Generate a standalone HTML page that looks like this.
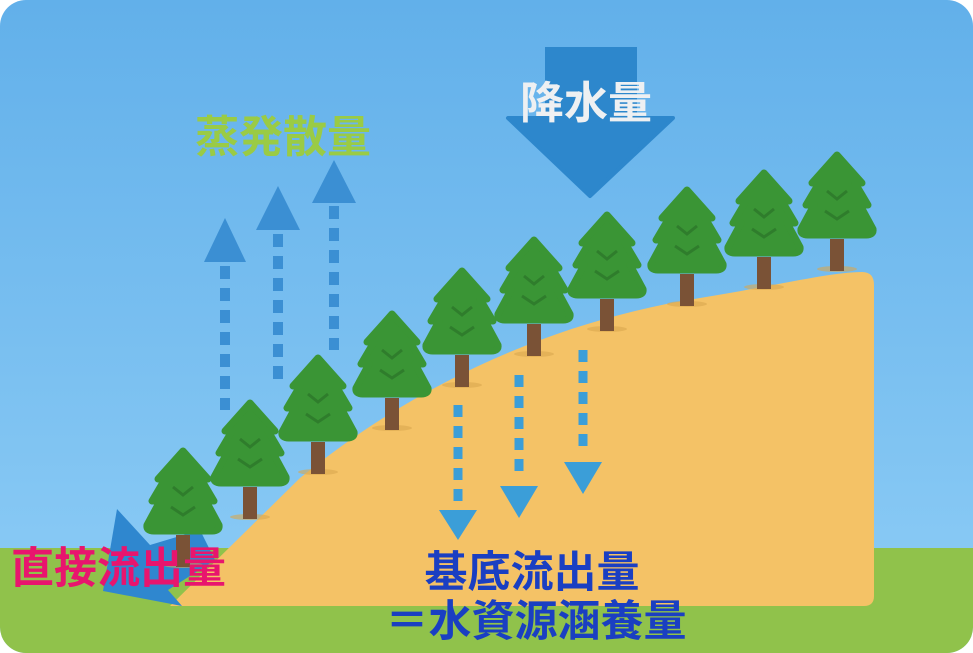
<!DOCTYPE html>
<html><head><meta charset="utf-8"><style>
html,body{margin:0;padding:0;background:#fff;}
svg{display:block;}
text{font-family:"Liberation Sans","Noto Sans CJK JP",sans-serif;font-weight:bold;}
</style></head><body>
<svg width="973" height="653" viewBox="0 0 973 653" xmlns="http://www.w3.org/2000/svg">
<defs>
<linearGradient id="sky" x1="0" y1="0" x2="0" y2="1">
<stop offset="0" stop-color="#62b0ea"/><stop offset="1" stop-color="#8ecdf6"/>
</linearGradient>
<clipPath id="clip"><rect x="0" y="0" width="973" height="653" rx="26"/></clipPath>
<g id="tree">
<ellipse cx="0" cy="-2" rx="20" ry="3" fill="#d9a64f" opacity="0.6"/>
<rect x="-7" y="-32" width="14" height="32" fill="#7a5236"/>
<path d="M0,-116 L-25,-88 L-18,-88 L-31,-66 L-23,-66 L-36,-42 Q-37,-36 -29,-36 L29,-36 Q37,-36 36,-42 L23,-66 L31,-66 L18,-88 L25,-88 Z" fill="#3a9535" stroke="#3a9535" stroke-width="7" stroke-linejoin="round"/>
<path d="M-10,-80 L0,-72 L10,-80 M-12,-60 L0,-52 L12,-60" stroke="#2f7d2c" stroke-width="3" fill="none"/>
</g>
</defs>
<g clip-path="url(#clip)">
<rect width="973" height="653" fill="url(#sky)"/>
<rect x="0" y="548" width="973" height="105" fill="#90c24b"/>
<path d="M170,606 L300,478 C420,380 560,320 700,298 C770,287 830,272 862,272 Q874,272 874,285 L874,596 Q874,606 864,606 Z" fill="#f4c266"/>
<polygon points="117,509 103,591 182,606 168,590 215,560 200,530 150,545" fill="#2f87cf"/>
<use href="#tree" x="183" y="567"/>
<use href="#tree" x="250" y="519"/>
<use href="#tree" x="318" y="474"/>
<use href="#tree" x="392" y="430"/>
<use href="#tree" x="462" y="387"/>
<use href="#tree" x="534" y="356"/>
<use href="#tree" x="607" y="331"/>
<use href="#tree" x="687" y="306"/>
<use href="#tree" x="764" y="289"/>
<use href="#tree" x="837" y="271"/>
<g fill="#3b8fd3">
<polygon points="225,218 204,262 246,262"/>
<polygon points="278,186 256,230 300,230"/>
<polygon points="334,160 312,203 356,203"/>
</g>
<g stroke="#3b8fd3" stroke-width="10" stroke-dasharray="13,9">
<line x1="225" y1="266" x2="225" y2="410"/>
<line x1="278" y1="234" x2="278" y2="380"/>
<line x1="334" y1="206" x2="334" y2="350"/>
</g>
<g stroke="#3b9ed8" stroke-width="9" stroke-dasharray="12,9">
<line x1="458" y1="405" x2="458" y2="505"/>
<line x1="519" y1="375" x2="519" y2="480"/>
<line x1="583" y1="350" x2="583" y2="455"/>
</g>
<g fill="#3b9ed8">
<polygon points="439,510 477,510 458,540"/>
<polygon points="500,486 538,486 519,518"/>
<polygon points="564,462 602,462 583,494"/>
</g>
<rect x="545" y="47" width="92" height="75" fill="#2d87cc"/>
<polygon points="508,118 673,118 590,196" fill="#2d87cc" stroke="#2d87cc" stroke-width="4" stroke-linejoin="round"/>
<text x="586" y="118" font-size="44" fill="#eef0f2" text-anchor="middle">降水量</text>
<text x="283" y="152" font-size="44" fill="#9acb45" text-anchor="middle">蒸発散量</text>
<text x="11" y="583" font-size="43" fill="#e8156e">直接流出量</text>
<text x="532" y="587" font-size="43" fill="#1a3fc2" text-anchor="middle">基底流出量</text>
<text x="536" y="636" font-size="43" fill="#1a3fc2" text-anchor="middle">＝水資源涵養量</text>
</g>
</svg>
</body></html>
